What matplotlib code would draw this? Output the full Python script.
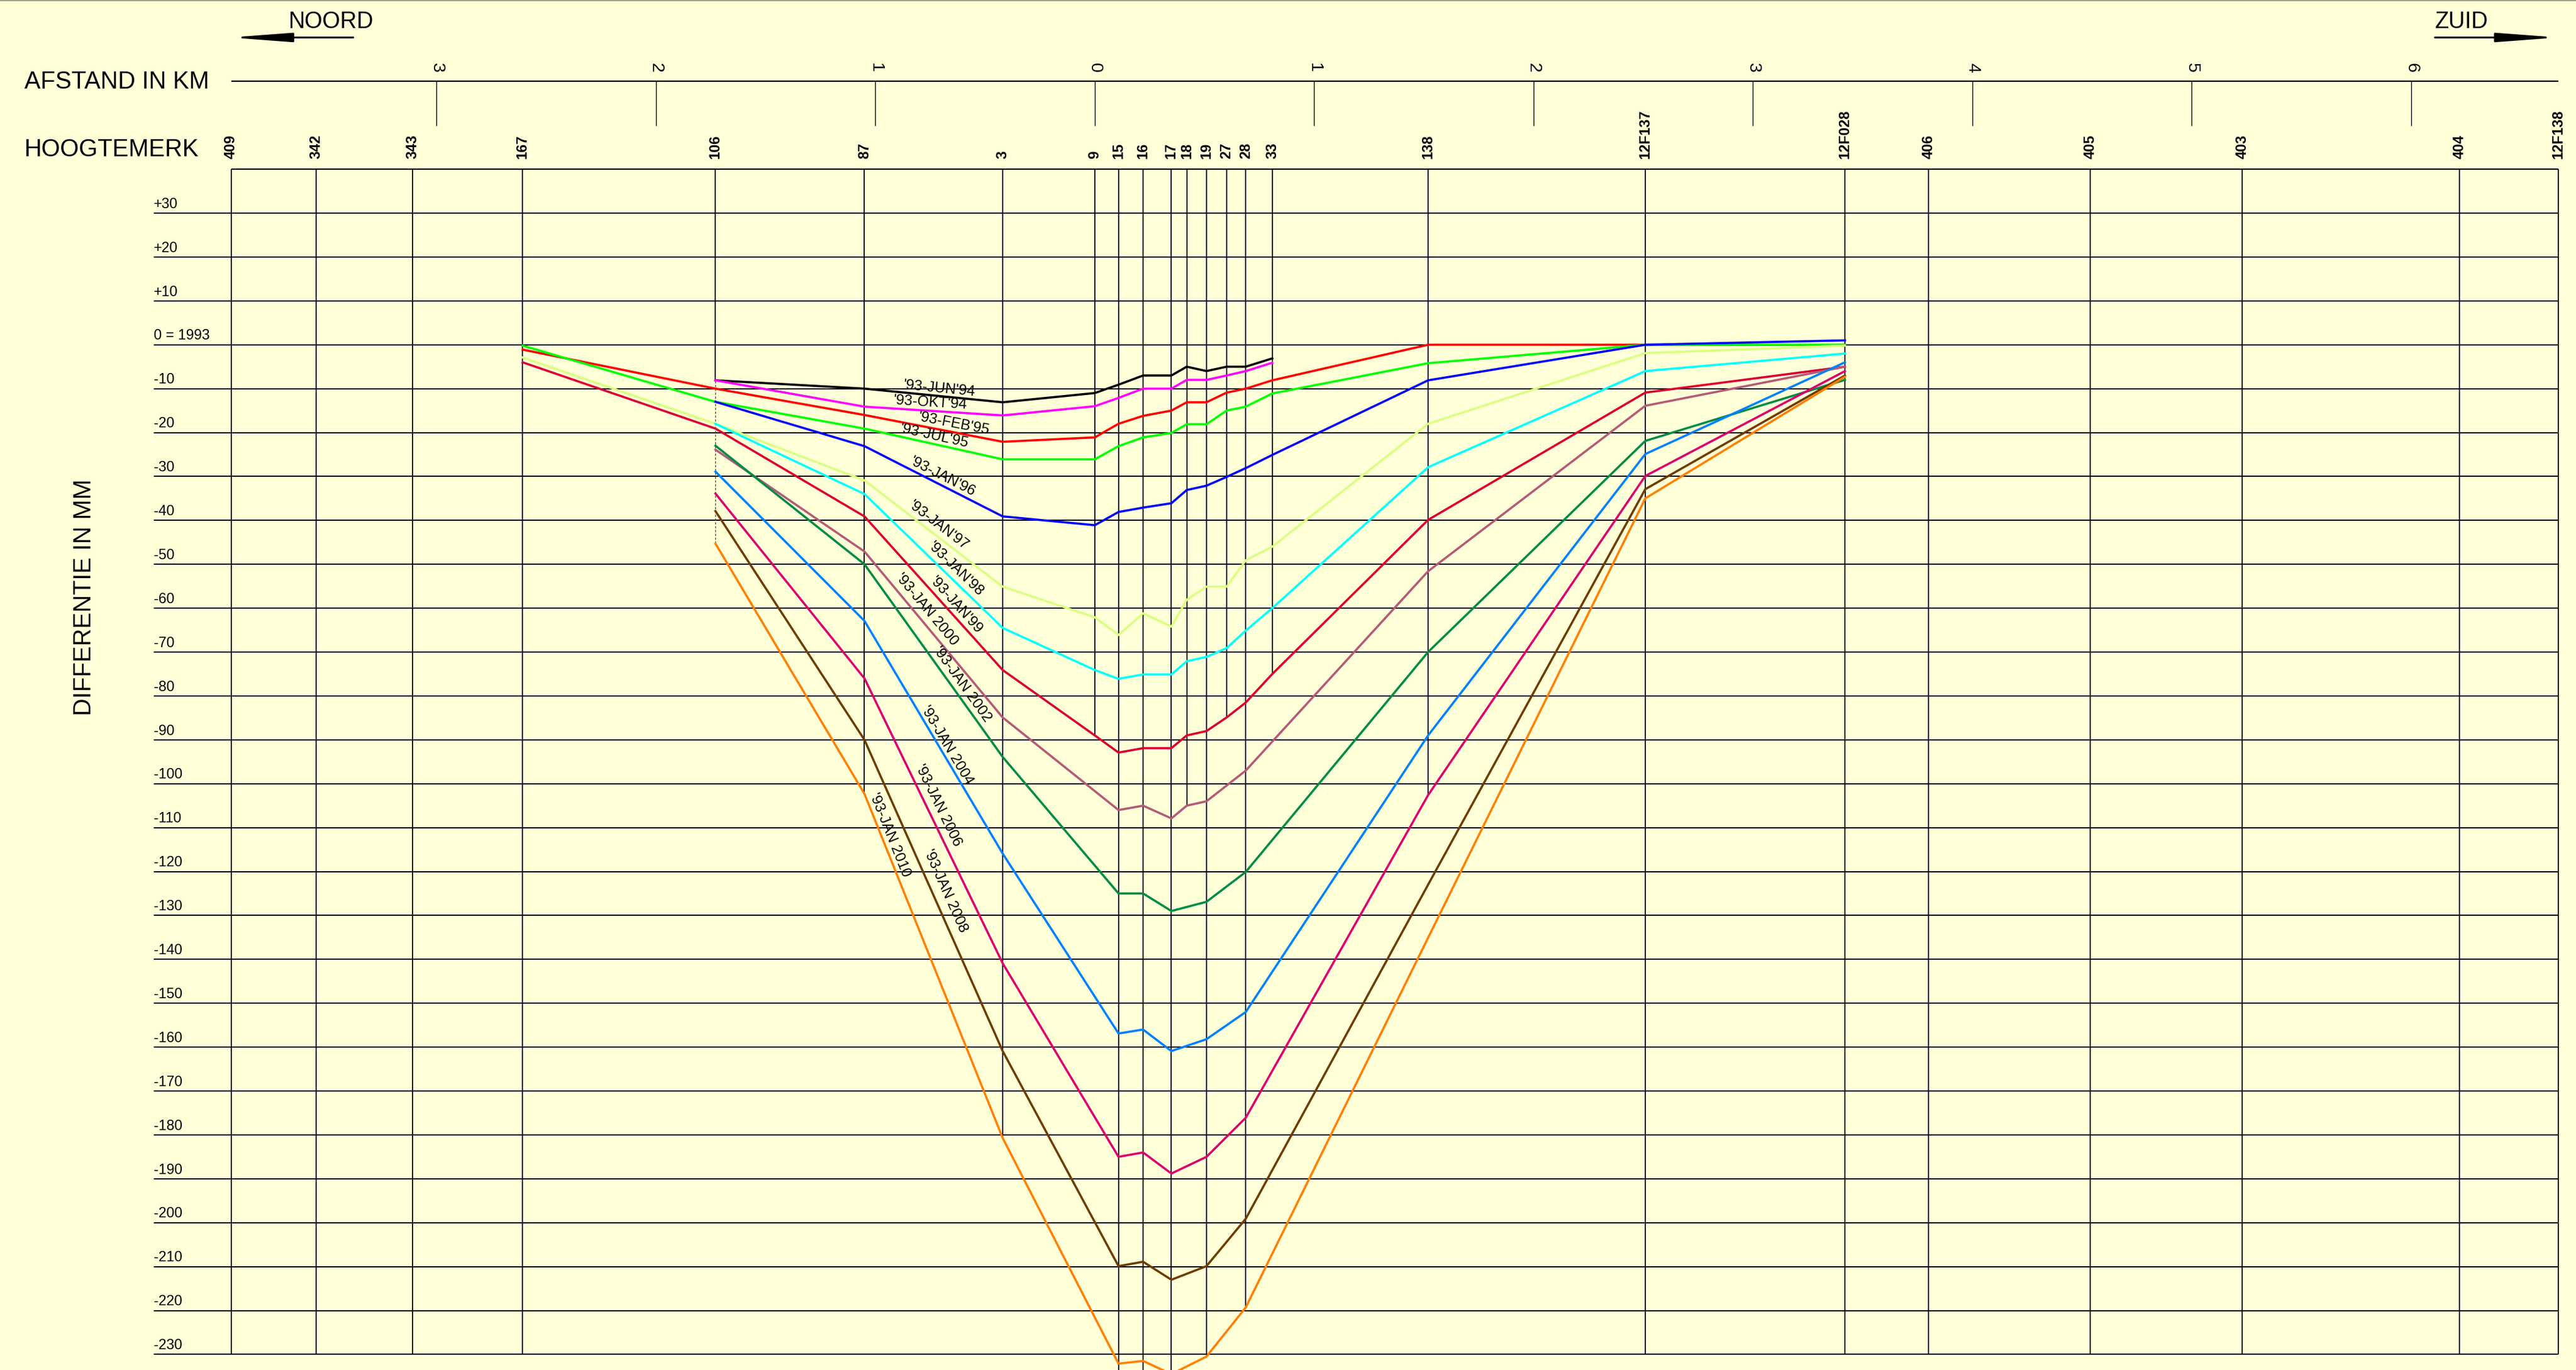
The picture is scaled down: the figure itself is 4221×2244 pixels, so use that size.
"""
Zakkingsprofiel: hoogteverschil van de hoogtemerken t.o.v. 1993, per meting.
"""

import math

import matplotlib

matplotlib.use("Agg")
import matplotlib.pyplot as plt
import numpy as np

ACHTERGROND = "#FFFFD8"

# hoogtemerken langs het profiel en hun ligging in km (0 = merk 9, noord negatief)
merken = ["409", "342", "343", "167", "106", "87", "3", "9", "15", "16", "17",
          "18", "19", "27", "28", "33", "138", "12F137", "12F028", "406",
          "405", "403", "404", "12F138"]
merk_km = [-3.937, -3.550, -3.110, -2.608, -1.729, -1.050, -0.420, 0.0, 0.108,
           0.220, 0.349, 0.419, 0.509, 0.601, 0.688, 0.809, 1.519, 2.509,
           3.419, 3.800, 4.537, 5.229, 6.220, 6.670]
# tot waar de verticale lijn van elk merk doorloopt (mm)
merk_onder = [-230, -230, -230, -230, -45.3, -102.3, -180.7, -89.0, -233.6,
              -233.6, -233.6, -105.0, -230.5, -84.9, -219.3, -75.0, -102.6,
              -230, -230, -230, -230, -230, -230, -230]

# afstandsschaal
afstand_km = [-3, -2, -1, 0, 1, 2, 3, 4, 5, 6]
afstand_labels = ["3", "2", "1", "0", "1", "2", "3", "4", "5", "6"]

# verticale schaal
hoogtes = [30, 20, 10, 0] + list(range(-10, -240, -10))
hoogte_labels = ["+30", "+20", "+10", "0 = 1993"] + [str(h) for h in range(-10, -240, -10)]

# gemeten merken (subset van merken) en de metingen in mm
punten = ["167", "106", "87", "3", "9", "15", "16", "17", "18", "19", "27",
          "28", "33", "138", "12F137", "12F028"]
N = None
jun94 = [N, -8.1, -10.0, -13.1, -11.0, -9.1, -7.0, -7.0, -5.0, -6.0, -5.0, -5.0, -3.1, N, N, N]
okt94 = [N, -8.1, -14.1, -16.1, -14.0, -12.1, -10.0, -10.0, -8.0, -8.0, -7.0, -6.0, -4.1, N, N, N]
feb95 = [-1.1, -10.0, -16.0, -22.1, -21.1, -18.0, -16.2, -15.0, -13.1, -13.1, -10.9, -10.0, -8.1, 0.0, 0.0, 0.0]
jul95 = [-0.2, -13.0, -19.1, -26.1, -26.1, -23.1, -21.1, -20.1, -18.1, -18.1, -15.0, -14.1, -11.1, -4.2, 0.0, 0.0]
jan96 = [N, -13.0, -23.1, -39.1, -41.1, -38.1, -37.1, -36.1, -33.1, -32.1, -30.1, -28.1, -25.1, -8.1, 0.0, 1.0]
jan97 = [-2.9, -18.0, -30.9, -55.1, -62.1, -66.1, -61.2, -64.2, -58.1, -55.1, -55.1, -49.1, -46.0, -18.0, -1.9, -0.2]
jan98 = [N, -18.0, -34.0, -64.5, -74.1, -76.1, -75.1, -75.1, -72.1, -71.1, -69.1, -65.1, -60.0, -27.9, -6.0, -2.0]
jan99 = [-4.0, -19.1, -39.1, -74.1, -89.0, -92.9, -91.9, -91.9, -89.0, -88.0, -84.9, -81.5, -75.0, -39.9, -10.9, -5.0]
jan00 = [N, -23.9, -47.1, -84.9, N, -106.0, -105.0, -107.9, -105.0, -104.0, N, -97.0, N, -51.6, -13.9, -5.0]
jan02 = [N, -23.0, -50.0, -93.9, N, -125.0, -125.0, -129.0, N, -126.9, N, -120.1, N, -70.0, -21.9, -8.0]
jan04 = [N, -28.9, -62.9, -115.9, N, -156.9, -156.0, -160.9, N, -158.2, N, -152.0, N, -89.0, -24.9, -4.0]
jan06 = [N, -33.9, -76.0, -140.9, N, -185.0, -184.0, -188.8, N, -185.0, N, -176.1, N, -102.6, -29.9, -6.0]
jan08 = [N, -37.9, -90.0, -160.9, N, -209.9, -208.9, -213.0, N, -209.9, N, -199.1, N, -123.0, -32.9, -7.0]
jan10 = [N, -45.3, -102.3, -180.7, N, -232.1, -231.5, -234.5, N, -230.5, N, -219.3, N, -135.1, -35.0, -7.3]

series = [
    ("'93-JUN'94", jun94, "#000000"),
    ("'93-OKT'94", okt94, "#FF00FF"),
    ("'93-FEB'95", feb95, "#FF0000"),
    ("'93-JUL'95", jul95, "#00FF00"),
    ("'93-JAN'96", jan96, "#0000FF"),
    ("'93-JAN'97", jan97, "#DAFF80"),
    ("'93-JAN'98", jan98, "#00FFFF"),
    ("'93-JAN'99", jan99, "#DC0032"),
    ("'93-JAN 2000", jan00, "#B45A78"),
    ("'93-JAN 2002", jan02, "#008C46"),
    ("'93-JAN 2004", jan04, "#0080FF"),
    ("'93-JAN 2006", jan06, "#DC006E"),
    ("'93-JAN 2008", jan08, "#6E3C00"),
    ("'93-JAN 2010", jan10, "#FF8000"),
]

# plaats van de lijnnamen (km, mm)
label_pos = [(-0.709, -10.1), (-0.751, -13.3), (-0.643, -18.0), (-0.732, -20.9),
             (-0.693, -30.1), (-0.712, -41.2), (-0.634, -51.1), (-0.634, -59.3),
             (-0.765, -60.3), (-0.604, -77.4), (-0.673, -91.2), (-0.715, -105.0),
             (-0.682, -124.5), (-0.935, -111.7)]

TOP = 40
LINKS_LABELS = -4.289

fig = plt.figure(figsize=(42.21, 22.44), dpi=100, facecolor=ACHTERGROND)
ax = fig.add_axes([0, 0, 1, 1])
ax.set_facecolor(ACHTERGROND)
ax.set_xlim(-4.990, 6.751)
ax.set_ylim(-233.56, 78.54)
ax.axis("off")

links, rechts = merk_km[0], merk_km[-1]

# dunne grijze rand bovenaan
ax.axhline(78.45, color="#a0a090", lw=1.5)

# raster
ax.hlines(hoogtes, LINKS_LABELS, rechts, color="black", lw=1.4, zorder=1)
ax.hlines(TOP, links, rechts, color="black", lw=1.6, zorder=1)
for naam, km, onder in zip(merken, merk_km, merk_onder):
    if naam == "106":
        # bovenste deel doorgetrokken, daaronder gestippeld
        ax.vlines(km, -8.1, TOP, color="black", lw=1.3, zorder=1)
        ax.vlines(km, onder, -8.1, color="#5a4020", lw=0.9, linestyles=(0, (3, 2)), zorder=1)
    else:
        ax.vlines(km, onder, TOP, color="black", lw=1.3, zorder=1)
    ax.text(km, 42.4, naam, rotation=90, ha="center", va="bottom",
            family="Liberation Sans", weight="bold", fontsize=17)

for h, lab in zip(hoogtes, hoogte_labels):
    ax.text(LINKS_LABELS, h + 0.45, lab, ha="left", va="bottom",
            family="Liberation Sans", fontsize=16.8)

# afstandsschaal
ax.hlines(60.0, links, rechts, color="black", lw=1.6)
ax.vlines(afstand_km, 49.9, 60.0, color="black", lw=1.0)
for km, lab in zip(afstand_km, afstand_labels):
    ax.text(km, 63.1, lab, rotation=270, ha="center", va="center",
            family="Liberation Sans", fontsize=20.5)

ax.text(-4.879, 58.4, "AFSTAND IN KM", ha="left", va="baseline",
        family="Liberation Sans", fontsize=28.5)
ax.text(-4.879, 42.9, "HOOGTEMERK", ha="left", va="baseline",
        family="Liberation Sans", fontsize=28.5)
ax.text(-4.606, -57.5, "DIFFERENTIE IN MM", rotation=90, ha="center", va="center",
        family="Liberation Sans", fontsize=28.5)

# windrichtingen
ax.text(-3.674, 72.1, "NOORD", ha="left", va="baseline", family="Liberation Sans", fontsize=27)
ax.text(6.108, 72.1, "ZUID", ha="left", va="baseline", family="Liberation Sans", fontsize=27)
pijl = dict(arrowstyle="-|>,head_length=60,head_width=4.5", mutation_scale=1,
            color="black", lw=2.2, shrinkA=0, shrinkB=0)
ax.annotate("", xy=(-3.942, 70.0), xytext=(-3.380, 70.0), arrowprops=pijl)
ax.annotate("", xy=(6.670, 70.0), xytext=(6.108, 70.0), arrowprops=pijl)

# metingen
x_punten = np.array([merk_km[merken.index(p)] for p in punten])
i87, i3 = punten.index("87"), punten.index("3")
for (naam, waarden, kleur), (lx, ly) in zip(series, label_pos):
    y = np.array(waarden, dtype=float)
    ok = ~np.isnan(y)
    ax.plot(x_punten[ok], y[ok], color=kleur, lw=2.6, solid_joinstyle="miter", zorder=3)
    # tekst evenwijdig aan het stuk tussen merk 87 en 3
    p1 = ax.transData.transform((x_punten[i87], y[i87]))
    p2 = ax.transData.transform((x_punten[i3], y[i3]))
    hoek = math.degrees(math.atan2(p2[1] - p1[1], p2[0] - p1[0]))
    ax.text(lx, ly, naam, rotation=hoek, ha="center", va="center",
            family="Liberation Sans", fontsize=17.5, zorder=4)

fig.savefig("out.png", dpi=100, facecolor=fig.get_facecolor())
